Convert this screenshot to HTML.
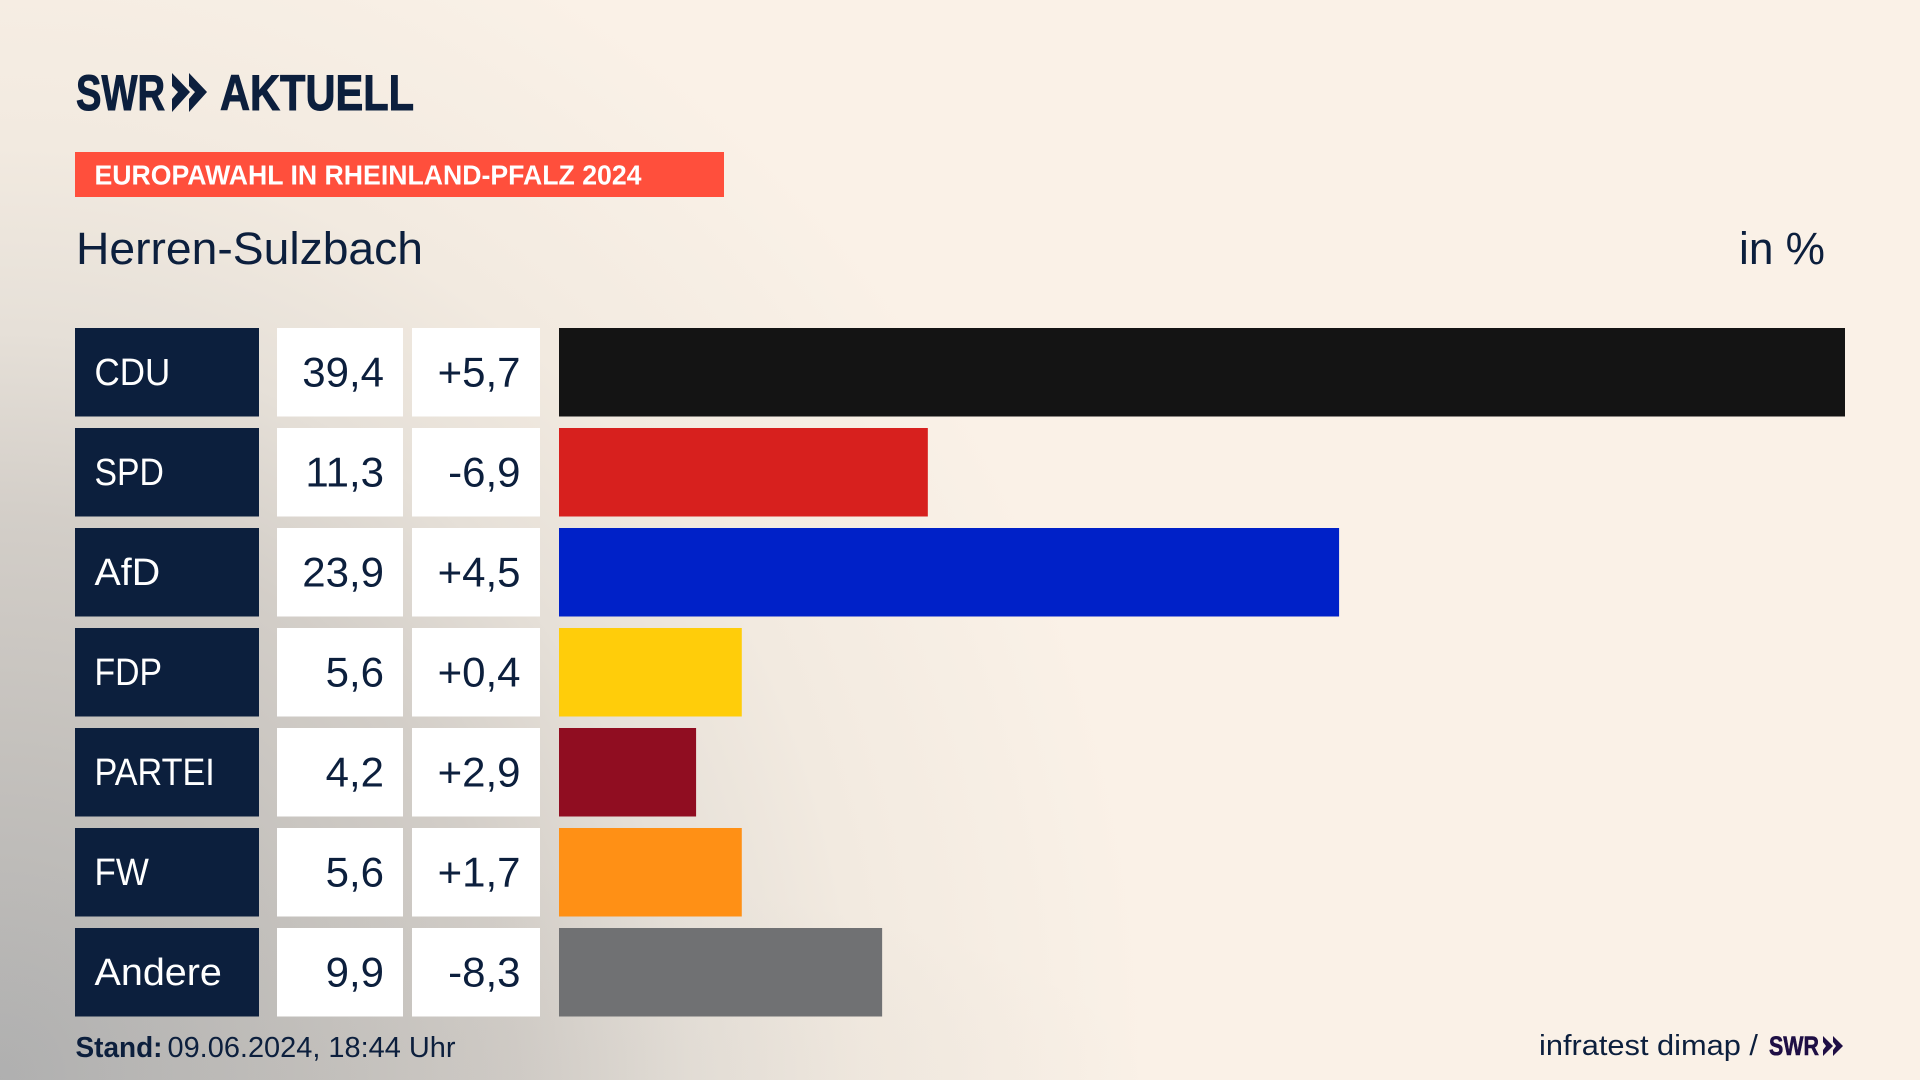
<!DOCTYPE html>
<html lang="de">
<head>
<meta charset="utf-8">
<title>Europawahl in Rheinland-Pfalz 2024 – Herren-Sulzbach</title>
<style>
  html, body { margin: 0; padding: 0; width: 1920px; height: 1080px; overflow: hidden; }
  body {
    background-color: #faf1e7;
    background-image:
      radial-gradient(ellipse 850px 220px at 300px 100%, rgba(170,170,170,0.14) 0%, rgba(170,170,170,0) 100%),
      radial-gradient(ellipse 1150px 1250px at 0% 100%, #b0b0b0 0%, #c3c0bc 25%, #d3cec8 45%, #e6e0d8 60%, #f2eae0 75%, #faf1e7 100%);
    font-family: "Liberation Sans", sans-serif;
  }
  svg { position: absolute; left: 0; top: 0; display: block; }
  text { font-family: "Liberation Sans", sans-serif; }
</style>
</head>
<body>
<svg id="chart" width="1920" height="1080" viewBox="0 0 1920 1080" xmlns="http://www.w3.org/2000/svg">
  <g fill="#0c1f3d">
    <text x="76" y="110" font-size="50" font-weight="700" stroke="#0c1f3d" stroke-width="1" textLength="89" lengthAdjust="spacingAndGlyphs">SWR</text>
    <polygon points="172,73 190,92 172,112 172,99 178,92 172,86"/>
    <polygon points="189,73 207,92 189,112 189,99 195,92 189,86"/>
    <text x="220" y="110" font-size="50" font-weight="700" stroke="#0c1f3d" stroke-width="1" textLength="194" lengthAdjust="spacingAndGlyphs">AKTUELL</text>
  </g>

  <rect x="75" y="152" width="649" height="45" fill="#ff4f3c"/>
  <text x="94.5" y="184.5" font-size="28" font-weight="700" fill="#ffffff" textLength="547" lengthAdjust="spacingAndGlyphs">EUROPAWAHL IN RHEINLAND-PFALZ 2024</text>

  <text x="76" y="264" font-size="45" fill="#0c1f3d" textLength="347" lengthAdjust="spacingAndGlyphs">Herren-Sulzbach</text>
  <text x="1739" y="264" font-size="45" fill="#0c1f3d" textLength="86" lengthAdjust="spacingAndGlyphs">in %</text>

  <g id="rows"></g>

  <g fill="#0c1f3d">
    <text x="75.5" y="1057" font-size="29" font-weight="700" textLength="87" lengthAdjust="spacingAndGlyphs">Stand:</text>
    <text x="167.5" y="1057" font-size="29" textLength="288" lengthAdjust="spacingAndGlyphs">09.06.2024, 18:44 Uhr</text>
  </g>
  <g>
    <text x="1539" y="1055" font-size="29" fill="#0c1f3d" textLength="219" lengthAdjust="spacingAndGlyphs">infratest dimap /</text>
    <text x="1769" y="1055" font-size="27" font-weight="700" fill="#1f0f45" stroke="#1f0f45" stroke-width="0.6" textLength="50" lengthAdjust="spacingAndGlyphs">SWR</text>
    <polygon points="1823,1036 1833,1046 1823,1056 1823,1050 1826,1046 1823,1042" fill="#1f0f45"/>
    <polygon points="1833,1036 1843,1046 1833,1056 1833,1050 1836,1046 1833,1042" fill="#1f0f45"/>
  </g>
</svg>

<script>
const categories = ["CDU", "SPD", "AfD", "FDP", "PARTEI", "FW", "Andere"];
const shares = [39.4, 11.3, 23.9, 5.6, 4.2, 5.6, 9.9];
const changes = [5.7, -6.9, 4.5, 0.4, 2.9, 1.7, -8.3];
const barColors = ["#141414", "#d7201e", "#0021c8", "#ffcd0a", "#900d21", "#ff9015", "#707173"];
const labelStretch = [0.92, 0.888, 1.037, 0.888, 0.9, 0.92, 1.04];

const SVG_NS = "http://www.w3.org/2000/svg";
const rowsGroup = document.getElementById("rows");

const ROW_TOP = 328, ROW_PITCH = 100, ROW_H = 88.5;
const BAR_X0 = 559, BAR_FULL = 1286, AXIS_MAX = 39.4;
const rowY = i => ROW_TOP + ROW_PITCH * i;
const barWidth = v => v / AXIS_MAX * BAR_FULL;
const formatShare = v => v.toFixed(1).replace(".", ",");
const formatChange = v => (v >= 0 ? "+" : "-") + Math.abs(v).toFixed(1).replace(".", ",");

function makeRect(x, y, w, h, fill) {
  const r = document.createElementNS(SVG_NS, "rect");
  r.setAttribute("x", x);
  r.setAttribute("y", y);
  r.setAttribute("width", w);
  r.setAttribute("height", h);
  r.setAttribute("fill", fill);
  return r;
}
function makeText(x, y, str, fill, size, anchor, stretch) {
  const t = document.createElementNS(SVG_NS, "text");
  t.setAttribute("y", y);
  t.setAttribute("fill", fill);
  t.setAttribute("font-size", size);
  t.setAttribute("text-anchor", anchor);
  t.setAttribute("transform", "translate(" + x + " 0) scale(" + stretch + " 1)");
  t.textContent = str;
  return t;
}

categories.forEach((cat, i) => {
  const y = rowY(i);
  const slug = cat.toLowerCase();

  const nameBox = makeRect(75, y, 184, ROW_H, "#0c1f3d");
  
  
  rowsGroup.appendChild(nameBox);

  const nameText = makeText(94.5, y + 57, cat, "#ffffff", 38, "start", labelStretch[i]);
  
  
  rowsGroup.appendChild(nameText);

  const shareBox = makeRect(277, y, 126, ROW_H, "#ffffff");
  
  
  rowsGroup.appendChild(shareBox);

  const shareText = makeText(384, y + 58.5, formatShare(shares[i]), "#0c1f3d", 42, "end", 1);
  
  
  rowsGroup.appendChild(shareText);

  const changeBox = makeRect(412, y, 128, ROW_H, "#ffffff");
  
  
  rowsGroup.appendChild(changeBox);

  const changeText = makeText(520.5, y + 58.5, formatChange(changes[i]), "#0c1f3d", 42, "end", 1);
  
  
  rowsGroup.appendChild(changeText);

  const bar = makeRect(BAR_X0, y, barWidth(shares[i]), ROW_H, barColors[i]);
  
  
  rowsGroup.appendChild(bar);
});
</script>
</body>
</html>
